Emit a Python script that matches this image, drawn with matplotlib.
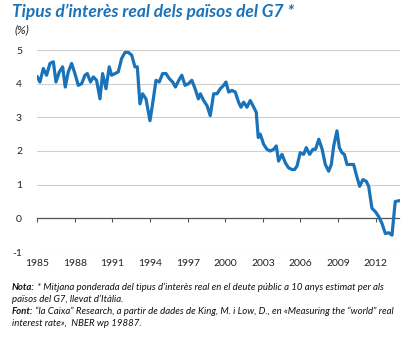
import matplotlib
matplotlib.use("Agg")
import matplotlib.pyplot as plt

years = [1985.00, 1985.21, 1985.48, 1985.74, 1986.01, 1986.28, 1986.49, 1986.76, 1987.02, 1987.23,
         1987.47, 1987.74, 1988.00, 1988.27, 1988.54, 1988.80, 1988.99, 1989.25, 1989.47, 1989.73,
         1990.00, 1990.21, 1990.48, 1990.74, 1990.93, 1991.20, 1991.46, 1991.73, 1992.00, 1992.26,
         1992.53, 1992.79, 1992.98, 1993.19, 1993.40, 1993.67, 1993.99, 1994.20, 1994.47, 1994.73,
         1995.00, 1995.27, 1995.53, 1995.80, 1996.02, 1996.29, 1996.53, 1996.79, 1997.06, 1997.33,
         1997.59, 1997.85,
         1998.01, 1998.27, 1998.54, 1998.80, 1999.07, 1999.34, 1999.60, 1999.87, 2000.05, 2000.27,
         2000.53, 2000.80, 2001.06, 2001.25, 2001.46, 2001.73, 2001.99, 2002.20, 2002.47, 2002.63,
         2002.79, 2003.06, 2003.32, 2003.59, 2003.86, 2004.07, 2004.25, 2004.52, 2004.79, 2005.05,
         2005.32, 2005.53, 2005.72, 2005.98, 2006.25, 2006.46, 2006.73, 2006.99, 2007.20, 2007.46,
         2007.73, 2007.98, 2008.25, 2008.46, 2008.65, 2008.91, 2009.10, 2009.31, 2009.50, 2009.71,
         2009.97, 2010.24, 2010.45, 2010.72, 2010.98, 2011.25, 2011.44, 2011.70, 2011.97, 2012.24,
         2012.50, 2012.77, 2013.04, 2013.30, 2013.56, 2013.83]
rates = [4.20, 4.05, 4.45, 4.25, 4.60, 4.65, 4.05, 4.35, 4.50, 3.90,
         4.35, 4.60, 4.30, 3.95, 4.00, 4.25, 4.30, 4.05, 4.20, 4.10,
         3.55, 4.30, 3.85, 4.50, 4.25, 4.30, 4.35, 4.75, 4.93, 4.93,
         4.85, 4.50, 4.50, 3.40, 3.70, 3.55, 2.90, 3.40, 4.10, 4.05,
         4.30, 4.30, 4.15, 4.05, 3.90, 4.10, 4.25, 3.95, 4.00, 4.10,
         3.85, 3.55,
         3.70, 3.50, 3.35, 3.05, 3.70, 3.70, 3.85, 3.95, 4.05, 3.75,
         3.80, 3.75, 3.45, 3.30, 3.45, 3.30, 3.50, 3.35, 3.15, 2.40,
         2.50, 2.20, 2.05, 2.00, 2.05, 2.15, 1.70, 1.90, 1.65, 1.50,
         1.45, 1.45, 1.55, 1.95, 1.90, 2.10, 1.90, 2.05, 2.05, 2.35,
         2.05, 1.60, 1.40, 1.60, 2.15, 2.60, 2.10, 1.95, 1.90, 1.60,
         1.60, 1.60, 1.30, 0.95, 1.15, 1.10, 0.95, 0.30, 0.20, 0.05,
         -0.15, -0.45, -0.43, -0.50, 0.50, 0.52]

xticks = [1985, 1988, 1991, 1994, 1997, 2000, 2003, 2006, 2009, 2012]
yticks = [-1, 0, 1, 2, 3, 4, 5]

BLUE = "#1a72b9"
FONT = "Lato"

fig = plt.figure(figsize=(4.04, 3.38), dpi=100)
ax = fig.add_axes([37.3 / 404, 1 - 252 / 338, (399.5 - 37.3) / 404, (252 - 50) / 338])

ax.plot(years, rates, color=BLUE, lw=2.3, solid_joinstyle="round", zorder=3)

ax.set_xlim(1985, 2013.9)
ax.set_ylim(-1, 5)
ax.set_yticks(yticks)
ax.set_yticklabels([str(v) for v in yticks], fontfamily=FONT, fontsize=7.5, color="#222222")
ax.tick_params(axis="y", length=0, pad=11)
ax.grid(axis="y", color="#cfcfcf", lw=0.8)
ax.set_axisbelow(True)
for s in ["top", "right", "left"]:
    ax.spines[s].set_visible(False)

ax.spines["bottom"].set_position(("data", 0))
ax.spines["bottom"].set_color("#555555")
ax.spines["bottom"].set_linewidth(0.9)
ax.set_xticks(xticks)
ax.tick_params(axis="x", direction="out", length=3, width=0.8, color="#555555", labelbottom=False)

sec = ax.secondary_xaxis(0.0)
sec.set_xticks(xticks)
sec.set_xticklabels([str(v) for v in xticks], fontfamily=FONT, fontsize=7.5, color="#222222")
sec.tick_params(length=0, pad=5)
sec.spines["bottom"].set_visible(False)

fig.text(12 / 404, 1 - 12 / 338, "Tipus d\u2019interès real dels països del G7 *",
         color=BLUE, fontfamily=FONT, fontweight="bold", fontstyle="italic",
         fontsize=12.5, va="center", ha="left")
fig.text(14 / 404, 1 - 30 / 338, "(%)", fontfamily=FONT, fontstyle="italic",
         fontsize=8.5, va="center", ha="left", color="#222222")

notes = [
    ("Nota:", " * Mitjana ponderada del tipus d\u2019interès real en el deute públic a 10 anys estimat per als"),
    ("", "països del G7, llevat d\u2019Itàlia."),
    ("Font:", " \u201cla Caixa\u201d Research, a partir de dades de King, M. i Low, D., en «Measuring the \u201cworld\u201d real"),
    ("", "interest rate»,  NBER wp 19887."),
]
NS = 6.95
y0 = 287
for i, (b, rest) in enumerate(notes):
    yy = 1 - (y0 + 12 * i) / 338
    if b:
        t = fig.text(12 / 404, yy, b, fontfamily=FONT, fontweight="bold", fontstyle="italic",
                     fontsize=NS, va="center", ha="left", color="#111111")
        ax.annotate(rest, xy=(1, 0.5), xycoords=t, va="center", ha="left",
                    fontfamily=FONT, fontstyle="italic", fontsize=NS, color="#111111",
                    annotation_clip=False)
    else:
        fig.text(12 / 404, yy, rest, fontfamily=FONT, fontstyle="italic",
                 fontsize=NS, va="center", ha="left", color="#111111")

fig.savefig("out.png", dpi=100)
